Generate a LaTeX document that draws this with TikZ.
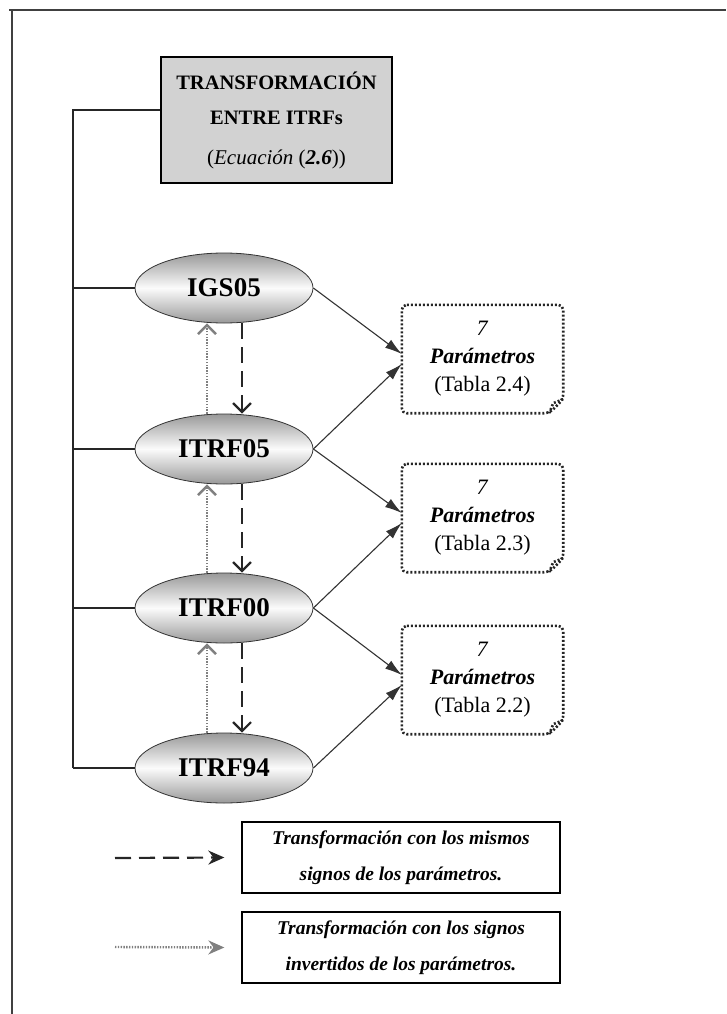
\documentclass[tikz,border=0pt]{standalone}
\usepackage{fontspec}
\setmainfont{Liberation Serif}
\usetikzlibrary{shapes.geometric, arrows.meta}

\begin{document}
\begin{tikzpicture}[x=1pt, y=-1pt,
    frame/.style={line width=1.6pt, black!75},
    titlebox/.style={draw, line width=1.8pt, fill=gray!35, minimum width=231pt, minimum height=126pt, align=center, font=\bfseries\fontsize{20.5}{35}\selectfont},
    frameref/.style={ellipse, draw=black!80, line width=0.8pt, top color=gray!80, bottom color=gray!80, middle color=gray!3, minimum width=178pt, minimum height=70pt, inner sep=0pt, font=\bfseries\fontsize{27}{30}\selectfont},
    parbox/.style={minimum width=161pt, minimum height=108pt, align=center, font=\fontsize{22}{28}\selectfont},
    parline/.style={line width=2.6pt, black!85, dash pattern=on 2pt off 2pt},
    bus/.style={line width=1.4pt, black!85},
    toparam/.style={line width=1.1pt, black!80, -{Latex[length=17pt, width=10pt]}},
    same/.style={line width=2.2pt, black!85, dash pattern=on 16pt off 8pt, -{Straight Barb[length=9pt, width=18pt]}},
    inverse/.style={line width=2.4pt, black!50, dash pattern=on 1.4pt off 1.4pt, -{Straight Barb[length=9pt, width=18pt]}},
    legbox/.style={draw, line width=1.3pt, minimum width=318pt, minimum height=71pt, align=center, font=\bfseries\itshape\fontsize{19.5}{36}\selectfont}]

    \useasboundingbox (0, 0) rectangle (726, 1014);
    \draw[frame] (9, 10) -- (726, 10);
    \draw[frame] (12, 10) -- (12, 1014);

    % title and the frames
    \node[titlebox] (title) at (276.5, 120) {TRANSFORMACIÓN\\ENTRE ITRFs\\[5pt]{\mdseries\fontsize{21}{22}\selectfont(\textit{Ecuación} (\textbf{\textit{2.6}}))}};
    \node[frameref] (igs05) at (224, 288) {IGS05};
    \node[frameref] (itrf05) at (224, 449) {ITRF05};
    \node[frameref] (itrf00) at (224, 608) {ITRF00};
    \node[frameref] (itrf94) at (224, 768) {ITRF94};

    \coordinate (spine) at (73, 110);
    \draw[bus] ([yshift=10pt]title.west) -- (spine) -- (spine |- itrf94.west);
    \foreach \f in {igs05, itrf05, itrf00, itrf94}
        \draw[bus] (spine |- \f.west) -- (\f.west);

    % parameter sheets
    \node[parbox] (tab24) at (482.5, 359) {\textit{7}\\\textbf{\textit{Parámetros}}\\(Tabla 2.4)};
    \node[parbox] (tab23) at (482.5, 518) {\textit{7}\\\textbf{\textit{Parámetros}}\\(Tabla 2.3)};
    \node[parbox] (tab22) at (482.5, 680) {\textit{7}\\\textbf{\textit{Parámetros}}\\(Tabla 2.2)};
    \foreach \p in {tab24, tab23, tab22} {
        \draw[parline, rounded corners=5pt] (\p.north west) -- (\p.north east) -- ([yshift=14pt]\p.south east) -- ([xshift=-14pt]\p.south east) -- (\p.south west) -- cycle;
        \draw[parline] ([yshift=14pt]\p.south east) -- ([xshift=-10pt, yshift=10pt]\p.south east) -- ([xshift=-14pt]\p.south east);
    }

    \draw[toparam] (igs05.east) -- ([yshift=5pt]tab24.west);
    \draw[toparam] (itrf05.east) -- ([yshift=-5pt]tab24.west);
    \draw[toparam] (itrf05.east) -- ([yshift=5pt]tab23.west);
    \draw[toparam] (itrf00.east) -- ([yshift=-5pt]tab23.west);
    \draw[toparam] (itrf00.east) -- ([yshift=5pt]tab22.west);
    \draw[toparam] (itrf94.east) -- ([yshift=-5pt]tab22.west);

    \foreach \a/\b in {igs05/itrf05, itrf05/itrf00, itrf00/itrf94} {
        \draw[same] ([xshift=18pt]\a.south) -- ([xshift=18pt]\b.north);
        \draw[inverse] ([xshift=-17pt]\b.north) -- ([xshift=-17pt]\a.south);
    }

    % legend
    \node[legbox] (legsame) at (401, 857.5) {Transformación con los mismos\\signos de los parámetros.};
    \node[legbox] (leginv) at (401, 947.5) {Transformación con los signos\\invertidos de los parámetros.};
    \coordinate (samestart) at (115, 858);
    \coordinate (invstart) at (115, 947);
    \draw[same, -{Stealth[length=16pt, width=14pt]}] (samestart) -- ([xshift=-17pt]legsame.west);
    \draw[inverse, -{Stealth[length=16pt, width=14pt]}] (invstart) -- ([xshift=-17pt]leginv.west);
\end{tikzpicture}
\end{document}
